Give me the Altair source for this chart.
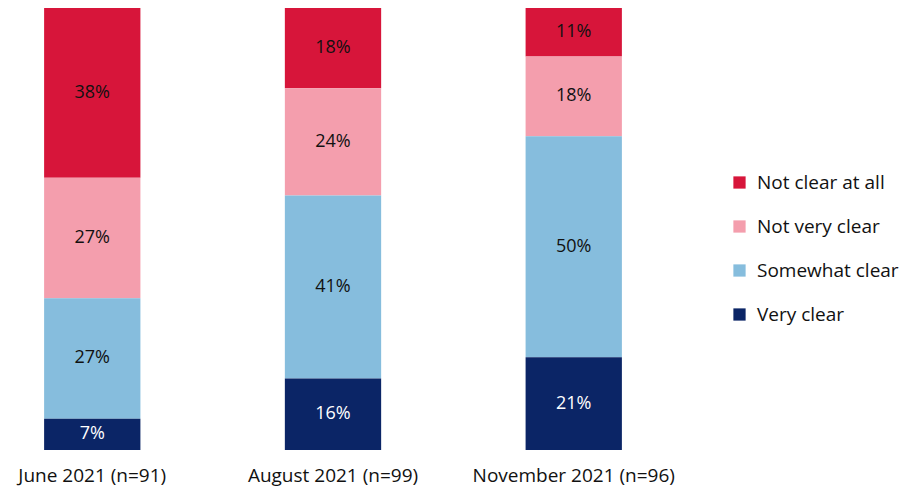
import altair as alt
import pandas as pd

periods = ["June 2021 (n=91)", "August 2021 (n=99)", "November 2021 (n=96)"]
categories = ["Not clear at all", "Not very clear", "Somewhat clear", "Very clear"]
not_clear_at_all = [38, 18, 11]
not_very_clear = [27, 24, 18]
somewhat_clear = [27, 41, 50]
very_clear = [7, 16, 21]
colors = ["#D7153A", "#F49EAD", "#86BDDD", "#0B2566"]

series = [not_clear_at_all, not_very_clear, somewhat_clear, very_clear]
rows = []
for ci, (cat, vals) in enumerate(zip(categories, series)):
    for p, v in zip(periods, vals):
        rows.append({"period": p, "category": cat, "value": v,
                     "rank": len(categories) - ci,
                     "label": f"{v}%"})
df = pd.DataFrame(rows)

FONT = "Open Sans"

base = alt.Chart(df).transform_stack(
    stack="value", groupby=["period"], as_=["y0", "y1"],
    offset="normalize", sort=[alt.SortField("rank", order="ascending")]
).transform_calculate(ymid="(datum.y0 + datum.y1) / 2")

xenc = alt.X("period:N", sort=periods, title=None,
             scale=alt.Scale(paddingInner=0.6, paddingOuter=0.15),
             axis=alt.Axis(labelAngle=0, labelFontSize=19, labelColor="#111111",
                           labelFont=FONT, domain=False, ticks=False,
                           labelPadding=16, labelLimit=0, labelBaseline="top"))

bars = base.mark_bar().encode(
    x=xenc,
    y=alt.Y("y0:Q", axis=None, scale=alt.Scale(domain=[0, 1])),
    y2="y1:Q",
    color=alt.Color("category:N", sort=categories,
                    scale=alt.Scale(domain=categories, range=colors),
                    legend=alt.Legend(title=None, orient="none", legendX=722, legendY=165,
                                      labelFontSize=19, labelFont=FONT,
                                      labelColor="#111111", symbolType="square",
                                      symbolSize=150, symbolStrokeWidth=0,
                                      rowPadding=24, labelOffset=8, labelLimit=0)),
)

text = base.mark_text(fontSize=18, font=FONT).encode(
    x=alt.X("period:N", sort=periods),
    y=alt.Y("ymid:Q"),
    text="label:N",
    color=alt.condition(alt.datum.category == "Very clear",
                        alt.value("white"), alt.value("#111111")),
)

chart = alt.layer(bars, text).properties(
    width=650, height=442,
    padding={"left": 0, "top": 0, "right": 0, "bottom": 8}
).configure_view(stroke=None)

chart.save("out.html", embed_options={"renderer": "svg", "actions": False})
